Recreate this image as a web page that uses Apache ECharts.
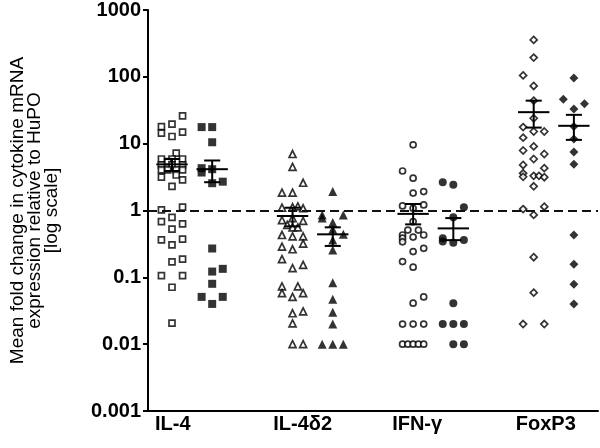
<!DOCTYPE html>
<html><head><meta charset="utf-8">
<script src="https://cdn.jsdelivr.net/npm/echarts@6/dist/echarts.min.js"></script>
<style>html,body{margin:0;padding:0;background:#fff}#c{width:600px;height:448px}</style>
</head><body><div id="c"></div>
<script>
const cytokines = ['IL-4', 'IL-4δ2', 'IFN-γ', 'FoxP3'];
const yTickLabels = ['0.001', '0.01', '0.1', '1', '10', '100', '1000'];
const yTitle = 'Mean fold change in cytokine mRNA\nexpression relative to HuPO\n[log scale]';

// each point: [jitter column, fold change]
const il4Open = [[1,26],[-1,18],[0,19.6],[-1,14.4],[0,12.8],[1,14.9],
  [0.4,7.2],[-1,5.9],[0,5.9],[1,5.9],[-0.4,5.4],[-1,4.8],[0,4.8],[1,4.8],[-1,4.05],[-0.4,4.05],[0.4,4.05],[1,4.05],[0.4,3.4],[-1,3.15],[1,2.87],[0,2.3],
  [-1,1.02],[1,1.12],[0,0.79],[-1,0.68],[1,0.63],[0,0.525],[-1,0.363],[0,0.306],[1,0.372],[0,0.17],[1,0.187],[-1,0.106],[1,0.106],[0,0.071],[0,0.0206]];
const il4Filled = [[-1,17.7],[0,17.7],[0,10.5],[-1,4.3],[-1,3.7],[0,4.15],[0,2.56],[1,2.7],[0,0.27],[0,0.122],[1,0.134],[0,0.08],[-1,0.051],[1,0.051],[0,0.04]];
const il4d2Open = [[0,7.0],[0,4.5],[1,2.6],[-1,1.85],[0,1.85],[-1,1.1],[0,1.12],[0.5,1.15],[1,1.08],[-1,0.72],[0,0.77],[1,0.70],[-0.5,0.61],[0,0.56],[0.5,0.56],[-1,0.43],[0,0.41],[1,0.41],[1,0.32],[-1,0.288],[0,0.263],[-1,0.187],[0,0.137],[1,0.154],[-1,0.073],[-1,0.058],[0.5,0.073],[1,0.058],[0,0.051],[0,0.029],[1,0.031],[0,0.0205],[0,0.01],[1,0.01]];
const il4d2Filled = [[0,1.92],[-1,0.86],[-1,0.77],[1,0.86],[0,0.66],[0,0.525],[1,0.44],[0,0.363],[0,0.257],[0,0.083],[0,0.047],[0,0.03],[0,0.02],[-1,0.01],[0,0.01],[1,0.01]];
const ifnOpen = [[0,9.6],[-1,3.9],[0,3.05],[0,1.82],[1,1.92],[-1,1.17],[0,1.08],[1,1.21],[0,0.68],[-0.5,0.51],[0.5,0.51],[-1,0.43],[-1,0.385],[-1,0.34],[0,0.40],[1,0.43],[0,0.243],[1,0.272],[-1,0.172],[0,0.142],[1,0.051],[0,0.041],[-1,0.02],[0,0.02],[1,0.02],[-1,0.01],[-0.5,0.01],[0,0.01],[0.5,0.01],[1,0.01]];
const ifnFilled = [[-1,2.65],[0,2.42],[1,1.12],[0,0.79],[-1,0.385],[-1,0.343],[0,0.33],[1,0.363],[0,0.041],[-1,0.02],[0,0.02],[1,0.02],[0,0.01],[1,0.01]];
const foxOpen = [[0,357],[0,194],[-1,105],[0,73],[0,44],[0,24],[-1,17.7],[0,15.2],[1,15.2],[-1,12.3],[0,9.1],[-1,7.9],[1,7.0],[0,5.9],[-1,4.8],[1,4.3],[-1,3.6],[-1,3.2],[0,3.3],[0.5,3.3],[1,3.15],[0,2.3],[-1,1.05],[1,1.14],[0,0.86],[0,0.2],[0,0.059],[-1,0.02],[1,0.02]];
const foxFilled = [[0,96],[-1,46],[1,39.5],[0,33],[0,18],[0,11.7],[0,7.5],[0,4.9],[0,0.43],[0,0.157],[0,0.079],[0,0.04]];

// mean and SEM limits per group (open, filled for each cytokine)
const means   = [4.9, 4.15, 0.83, 0.44, 0.89, 0.54, 29.6, 18.5];
const semLow  = [3.9, 2.65, 0.58, 0.295, 0.62, 0.36, 17.4, 11.4];
const semHigh = [5.9, 5.6, 1.1, 0.56, 1.25, 0.77, 44, 27];

const groups = [il4Open, il4Filled, il4d2Open, il4d2Filled, ifnOpen, ifnFilled, foxOpen, foxFilled];
const symbols = ['rect', 'rect', 'triangle', 'triangle', 'circle', 'circle', 'diamond', 'diamond'];
const slot = i => Math.floor(i / 2) * 3 + 1 + (i % 2);
const colStep = 0.263;
const font = "'Liberation Sans', Arial, sans-serif";

const series = groups.map((g, i) => {
  const filled = i % 2 === 1;
  const sym = symbols[i];
  let size = sym === 'rect' ? (filled ? 8 : 6) : (sym === 'circle' ? (filled ? 8 : 6) : (filled ? 9 : 7));
  return {
    type: 'scatter',
    symbol: sym,
    symbolSize: size,
    data: g.map(p => [slot(i) + p[0] * colStep, p[1]]),
    itemStyle: filled ? { color: '#000' } : { color: '#fff', borderColor: '#000', borderWidth: 1.7 },
    z: 3,
    silent: true
  };
});

series[0].markLine = {
  silent: true, symbol: 'none', label: { show: false },
  lineStyle: { type: [9, 5], width: 2, color: '#111' },
  data: [{ yAxis: 1 }]
};

series.push({
  type: 'custom',
  z: 5,
  data: means.map((m, i) => [slot(i), m, semLow[i], semHigh[i]]),
  renderItem: function (params, api) {
    const x = api.value(0);
    const pm = api.coord([x, api.value(1)]);
    const pl = api.coord([x, api.value(2)]);
    const ph = api.coord([x, api.value(3)]);
    const hw = api.coord([x + 0.39, api.value(1)])[0] - pm[0];
    const cw = api.coord([x + 0.2, api.value(1)])[0] - pm[0];
    const st = { stroke: '#000', lineWidth: 2 };
    return {
      type: 'group',
      children: [
        { type: 'line', shape: { x1: pm[0] - hw, y1: pm[1], x2: pm[0] + hw, y2: pm[1] }, style: st },
        { type: 'line', shape: { x1: pl[0], y1: pl[1], x2: ph[0], y2: ph[1] }, style: st },
        { type: 'line', shape: { x1: pl[0] - cw, y1: pl[1], x2: pl[0] + cw, y2: pl[1] }, style: st },
        { type: 'line', shape: { x1: ph[0] - cw, y1: ph[1], x2: ph[0] + cw, y2: ph[1] }, style: st }
      ]
    };
  }
});

const labelPos = [1.02, 4.25, 7.1, 10.3];

const chart = echarts.init(document.getElementById('c'), null, { renderer: 'canvas' });
chart.setOption({
  animation: false,
  backgroundColor: '#fff',
  grid: { left: 129, right: 2, top: 10, bottom: 37, containLabel: false },
  xAxis: {
    type: 'value', min: 0.403, max: 11.6,
    splitLine: { show: false },
    axisLine: { show: true, onZero: false, lineStyle: { color: '#000', width: 2 } },
    axisTick: { show: false },
    axisLabel: {
      customValues: labelPos,
      formatter: v => { const k = labelPos.findIndex(p => Math.abs(p - v) < 1e-6); return k >= 0 ? cytokines[k] : ''; },
      color: '#000', fontWeight: 'bold', fontSize: 20, fontFamily: font, margin: 3
    }
  },
  yAxis: {
    type: 'log', logBase: 10, min: 0.001, max: 1000, interval: 1,
    splitLine: { show: false },
    axisLine: { show: true, lineStyle: { color: '#000', width: 2 } },
    axisTick: { show: true, length: 5, lineStyle: { color: '#000', width: 2 } },
    minorTick: { show: false },
    axisLabel: {
      formatter: v => yTickLabels[Math.round(Math.log10(v)) + 3],
      color: '#000', fontWeight: 'bold', fontSize: 20, fontFamily: font, margin: 7
    },
    name: yTitle,
    nameLocation: 'middle',
    nameRotate: 90,
    nameGap: 88,
    nameTextStyle: { color: '#000', fontSize: 19, lineHeight: 17, fontFamily: font, align: 'center' }
  },
  series: series
});
</script>
</body></html>
